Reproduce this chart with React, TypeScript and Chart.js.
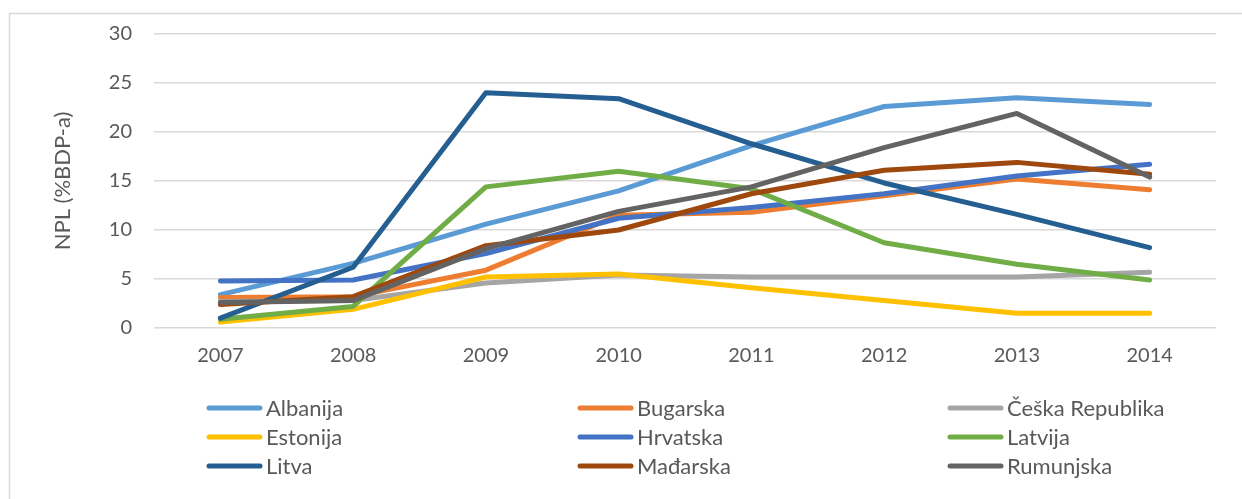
import React, { useEffect, useRef } from "react";
import { Chart, registerables } from "chart.js";

Chart.register(...registerables);

const years = ["2007", "2008", "2009", "2010", "2011", "2012", "2013", "2014"];
const seriesNames = ["Albanija", "Bugarska", "Češka Republika", "Estonija", "Hrvatska", "Latvija", "Litva", "Mađarska", "Rumunjska"];
const albanija = [3.4, 6.6, 10.6, 14.0, 18.6, 22.6, 23.5, 22.8];
const bugarska = [3.1, 3.2, 5.9, 11.5, 11.8, 13.5, 15.2, 14.1];
const ceska = [2.7, 2.8, 4.6, 5.4, 5.2, 5.2, 5.2, 5.7];
const estonija = [0.6, 1.9, 5.2, 5.5, 4.1, 2.8, 1.5, 1.5];
const hrvatska = [4.8, 4.9, 7.6, 11.2, 12.3, 13.7, 15.5, 16.7];
const latvija = [0.9, 2.2, 14.4, 16.0, 14.2, 8.7, 6.5, 4.9];
const litva = [1.0, 6.2, 24.0, 23.4, 18.8, 14.8, 11.6, 8.2];
const madarska = [2.4, 3.2, 8.4, 10.0, 13.7, 16.1, 16.9, 15.7];
const rumunjska = [2.6, 2.8, 8.1, 11.9, 14.4, 18.4, 21.9, 15.4];
const seriesValues = [albanija, bugarska, ceska, estonija, hrvatska, latvija, litva, madarska, rumunjska];
const seriesColors = ["#5B9BD5", "#ED7D31", "#A5A5A5", "#FFC000", "#4472C4", "#70AD47", "#255E91", "#9E480E", "#636363"];
const yTitle = "NPL (%BDP-a)";

const FONT = "Lato, 'Open Sans', sans-serif";
const TEXT = "#595959";

const frameAndLegend = {
  id: "frameAndLegend",
  beforeDraw(chart: any) {
    const ctx = chart.ctx;
    ctx.save();
    ctx.fillStyle = "#ffffff";
    ctx.fillRect(0, 0, chart.width, chart.height);
    ctx.strokeStyle = "#d9d9d9";
    ctx.lineWidth = 1.5;
    ctx.beginPath();
    ctx.moveTo(9.5, chart.height);
    ctx.lineTo(9.5, 13.5);
    ctx.lineTo(chart.width, 13.5);
    ctx.stroke();
    ctx.restore();
  },
  afterDraw(chart: any) {
    const ctx = chart.ctx;
    const colX = [207, 578, 948];
    const rowY = [408, 437, 466];
    ctx.save();
    ctx.font = `22px ${FONT}`;
    ctx.textBaseline = "middle";
    ctx.textAlign = "left";
    chart.data.datasets.forEach((ds: any, i: number) => {
      const x = colX[i % 3];
      const y = rowY[Math.floor(i / 3)];
      ctx.strokeStyle = ds.borderColor;
      ctx.lineWidth = 5;
      ctx.lineCap = "round";
      ctx.beginPath();
      ctx.moveTo(x + 2, y);
      ctx.lineTo(x + 53, y);
      ctx.stroke();
      ctx.fillStyle = TEXT;
      ctx.fillText(ds.label, x + 59, y + 1);
    });
    ctx.restore();
  },
};

export default function App() {
  const ref = useRef<HTMLCanvasElement | null>(null);
  useEffect(() => {
    if (!ref.current) return;
    const chart = new Chart(ref.current, {
      type: "line",
      data: {
        labels: years,
        datasets: seriesNames.map((name, i) => ({
          label: name,
          data: seriesValues[i],
          borderColor: seriesColors[i],
          backgroundColor: seriesColors[i],
          borderWidth: 5,
          borderCapStyle: "round",
          borderJoinStyle: "round",
          pointRadius: 0,
          pointHoverRadius: 0,
          tension: 0,
          fill: false,
          order: seriesNames.length - i,
        })),
      },
      options: {
        animation: false,
        responsive: false,
        devicePixelRatio: 1,
        layout: { padding: { left: 46, top: 32, right: 26, bottom: 131 } },
        plugins: {
          legend: { display: false },
          tooltip: { enabled: false },
        },
        scales: {
          x: {
            offset: true,
            border: { display: false },
            grid: { display: false, drawTicks: false },
            ticks: { color: TEXT, font: { family: FONT, size: 20 }, padding: 16 },
            afterFit(scale: any) {
              scale.height = 40;
            },
          },
          y: {
            min: 0,
            max: 30,
            border: { display: false },
            grid: { color: "#d9d9d9", lineWidth: 1.5, drawTicks: false },
            ticks: { stepSize: 5, color: TEXT, font: { family: FONT, size: 20 }, padding: 22 },
            title: {
              display: true,
              text: yTitle,
              color: TEXT,
              font: { family: FONT, size: 22 },
              padding: { top: 4, bottom: 4 },
            },
            afterFit(scale: any) {
              scale.width = 108;
            },
          },
        },
      },
      plugins: [frameAndLegend],
    } as any);
    return () => chart.destroy();
  }, []);
  return (
    <div style={{ position: "fixed", left: 0, top: 0, width: 1242, height: 499, background: "#fff" }}>
      <canvas ref={ref} width={1242} height={499} style={{ display: "block" }} />
    </div>
  );
}
